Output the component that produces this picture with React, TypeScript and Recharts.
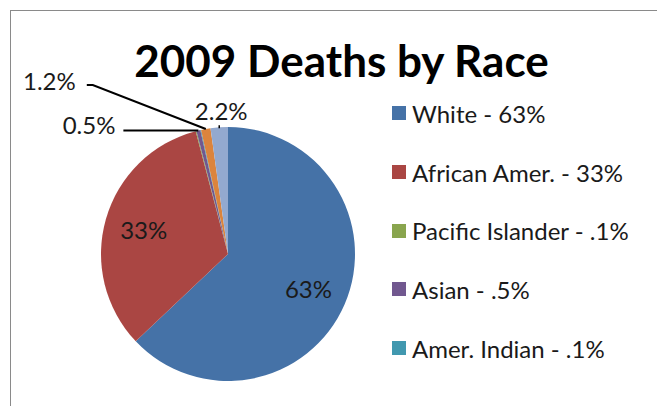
import React from 'react';
import { PieChart, Pie, Cell, Legend } from 'recharts';

const categories = ['White', 'African Amer.', 'Pacific Islander', 'Asian', 'Amer. Indian', 'Other', 'Unknown'];
const values = [63, 33, 0.1, 0.5, 0.1, 1.2, 2.2];
const sliceLabels = ['63%', '33%', '', '0.5%', '', '1.2%', '2.2%'];
const labelKinds = ['inside', 'inside', 'none', 'leader', 'none', 'elbow', 'above'];
const legendLabels = ['White - 63%', 'African Amer. - 33%', 'Pacific Islander - .1%', 'Asian - .5%', 'Amer. Indian - .1%'];
const colors = ['#4572A7', '#AA4643', '#89A54E', '#71588F', '#4198AF', '#DB843D', '#93A9CF'];

const data = categories.map((name, i) => ({ name, value: values[i] }));

const FONT = 'Lato, "Open Sans", sans-serif';
const RAD = Math.PI / 180;

const renderLabel = (p: any) => {
  const { cx, cy, midAngle, outerRadius, index } = p;
  const text = sliceLabels[index];
  const kind = labelKinds[index];
  if (!text || kind === 'none') return null;
  const cos = Math.cos(-midAngle * RAD);
  const sin = Math.sin(-midAngle * RAD);
  const style = { fontFamily: FONT, fontSize: 24, fill: '#1a1a1a' };
  if (kind === 'inside') {
    const r = outerRadius * 0.69;
    return (
      <text key={`l${index}`} x={cx + r * cos} y={cy + r * sin} textAnchor="middle" dominantBaseline="central" style={style}>
        {text}
      </text>
    );
  }
  const ax = cx + outerRadius * cos;
  const ay = cy + outerRadius * sin;
  if (kind === 'above') {
    return (
      <g key={`l${index}`}>
        <line x1={ax} y1={ay + 1} x2={ax} y2={ay - 2} stroke="#000" strokeWidth={1.5} />
        <text x={ax + 2} y={ay - 17} textAnchor="middle" dominantBaseline="central" style={style}>{text}</text>
      </g>
    );
  }
  if (kind === 'leader') {
    return (
      <g key={`l${index}`}>
        <path d={`M${ax},${ay} L${ax - 75},${ay}`} stroke="#000" strokeWidth={2} fill="none" />
        <text x={ax - 83} y={ay - 6.5} textAnchor="end" dominantBaseline="central" style={style}>{text}</text>
      </g>
    );
  }
  // elbow
  return (
    <g key={`l${index}`}>
      <path d={`M${ax},${ay} L${ax - 113},${ay - 44} L${ax - 119},${ay - 44}`} stroke="#000" strokeWidth={2} fill="none" />
      <text x={ax - 130} y={ay - 48} textAnchor="end" dominantBaseline="central" style={style}>{text}</text>
    </g>
  );
};

const renderLegend = () => (
  <div style={{ fontFamily: FONT }}>
    {legendLabels.map((lab, i) => (
      <div key={lab} style={{ height: 58.7, display: 'flex', alignItems: 'center' }}>
        <div style={{ width: 14, height: 14, background: colors[i], marginRight: 6 }} />
        <span style={{ fontSize: 24, color: '#1a1a1a', whiteSpace: 'nowrap' }}>{lab}</span>
      </div>
    ))}
  </div>
);

export default function App() {
  return (
    <div style={{ position: 'absolute', left: 0, top: 0, width: 657, height: 406, overflow: 'hidden', background: '#fff' }}>
      <div style={{ position: 'absolute', left: 10, top: 10, width: 700, height: 450, border: '1.5px solid #8a8a8a', boxSizing: 'border-box' }} />
      <div style={{ position: 'absolute', left: 0, width: 683, top: 35, textAlign: 'center', fontFamily: FONT, fontWeight: 700, fontSize: 44, lineHeight: '50px', color: '#000' }}>
        2009 Deaths by Race
      </div>
      <div style={{ position: 'absolute', left: 0, top: 0 }}>
        <PieChart width={657} height={406} margin={{ top: 0, right: 0, bottom: 0, left: 0 }}>
          <Pie
            data={data}
            dataKey="value"
            nameKey="name"
            cx={228}
            cy={254}
            outerRadius={127}
            startAngle={90}
            endAngle={-270}
            stroke="none"
            label={renderLabel}
            labelLine={false}
            isAnimationActive={false}
          >
            {data.map((d, i) => (
              <Cell key={d.name} fill={colors[i]} />
            ))}
          </Pie>
          <Legend content={renderLegend} wrapperStyle={{ position: 'absolute', left: 392, top: 84, width: 265 }} />
        </PieChart>
      </div>
    </div>
  );
}
